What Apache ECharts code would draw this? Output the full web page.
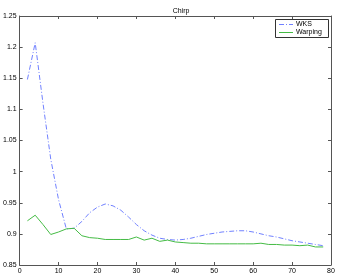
<!DOCTYPE html>
<html><head><meta charset="utf-8">
<script src="https://cdn.jsdelivr.net/npm/echarts@6/dist/echarts.min.js"></script>
<style>html,body{margin:0;padding:0;background:#fff}#c{width:338px;height:275px}</style>
</head><body><div id="c"></div>
<script>
var xValues = [2,4,6,8,10,12,14,16,18,20,22,24,26,28,30,32,34,36,38,40,42,44,46,48,50,52,54,56,58,60,62,64,66,68,70,72,74,76,78];
var wksValues = [1.148,1.207,1.11,1.02,0.955,0.908,0.909,0.92,0.934,0.943,0.948,0.945,0.938,0.927,0.915,0.905,0.898,0.893,0.891,0.890,0.891,0.893,0.896,0.899,0.901,0.903,0.904,0.905,0.905,0.903,0.900,0.897,0.895,0.892,0.889,0.887,0.885,0.883,0.881];
var warpingValues = [0.921,0.930,0.915,0.899,0.903,0.908,0.909,0.897,0.894,0.893,0.891,0.891,0.891,0.891,0.895,0.890,0.893,0.888,0.890,0.887,0.886,0.885,0.885,0.884,0.884,0.884,0.884,0.884,0.884,0.884,0.885,0.883,0.883,0.882,0.882,0.881,0.882,0.879,0.879];
var seriesNames = ['WKS','Warping'];
var titleText = 'Chirp';

function pairs(xs, ys){ return xs.map(function(x,i){ return [x, ys[i]]; }); }
var font = 'Liberation Sans, Arial, sans-serif';
var axisCol = '#555';
var wksCol = '#7080ff', warpCol = '#44bb44';
var dashDot = [5,2,1,2];
var chart = echarts.init(document.getElementById('c'), null, {renderer:'canvas'});
var baseX = {type:'value', min:0, max:80, interval:10,
  axisLine:{show:true, onZero:false, lineStyle:{color:axisCol, width:1}},
  axisTick:{show:true, inside:true, length:3, lineStyle:{color:axisCol}},
  splitLine:{show:false}};
var baseY = {type:'value', min:0.85, max:1.25, interval:0.05,
  axisLine:{show:true, onZero:false, lineStyle:{color:axisCol, width:1}},
  axisTick:{show:true, inside:true, length:3, lineStyle:{color:axisCol}},
  splitLine:{show:false}};
var legendColors = [wksCol, warpCol];
var legendTypes = [dashDot, 'solid'];
var legendChildren = [{type:'rect', shape:{x:0.5, y:0.5, width:53, height:18}, style:{fill:'#fff', stroke:'#333', lineWidth:1}}];
seriesNames.forEach(function(n, i){
  var cy = 5.5 + i*8;
  legendChildren.push({type:'line', shape:{x1:4, y1:cy, x2:18, y2:cy}, style:{stroke:legendColors[i], lineWidth:1, lineDash:legendTypes[i]==='solid'?null:legendTypes[i]}});
  legendChildren.push({type:'text', x:21, y:cy, style:{text:n, font:'7px ' + font, fill:'#000', textVerticalAlign:'middle', verticalAlign:'middle'}});
});
chart.setOption({
  animation:false,
  title:{text:titleText, left:176, textAlign:'center', top:3, textStyle:{fontFamily:font, fontSize:7, fontWeight:'normal', color:'#000'}},
  grid:{left:16, right:7, top:16, bottom:10, containLabel:false},
  graphic:[{type:'group', left:275, top:19, z:100, children:legendChildren}],
  xAxis:[
    Object.assign({}, baseX, {position:'bottom', axisLabel:{fontFamily:font, fontSize:7, color:'#000', margin:3}}),
    Object.assign({}, baseX, {position:'top', axisLabel:{show:false}})
  ],
  yAxis:[
    Object.assign({}, baseY, {position:'left', axisLabel:{fontFamily:font, fontSize:7, color:'#000', margin:3}}),
    Object.assign({}, baseY, {position:'right', axisLabel:{show:false}})
  ],
  series:[
    {name:seriesNames[0], type:'line', data:pairs(xValues, wksValues), showSymbol:false, symbol:'none',
      lineStyle:{color:wksCol, width:1, type:dashDot}, itemStyle:{color:wksCol}},
    {name:seriesNames[1], type:'line', data:pairs(xValues, warpingValues), showSymbol:false, symbol:'none',
      lineStyle:{color:warpCol, width:1}, itemStyle:{color:warpCol}}
  ]
});
</script></body></html>
